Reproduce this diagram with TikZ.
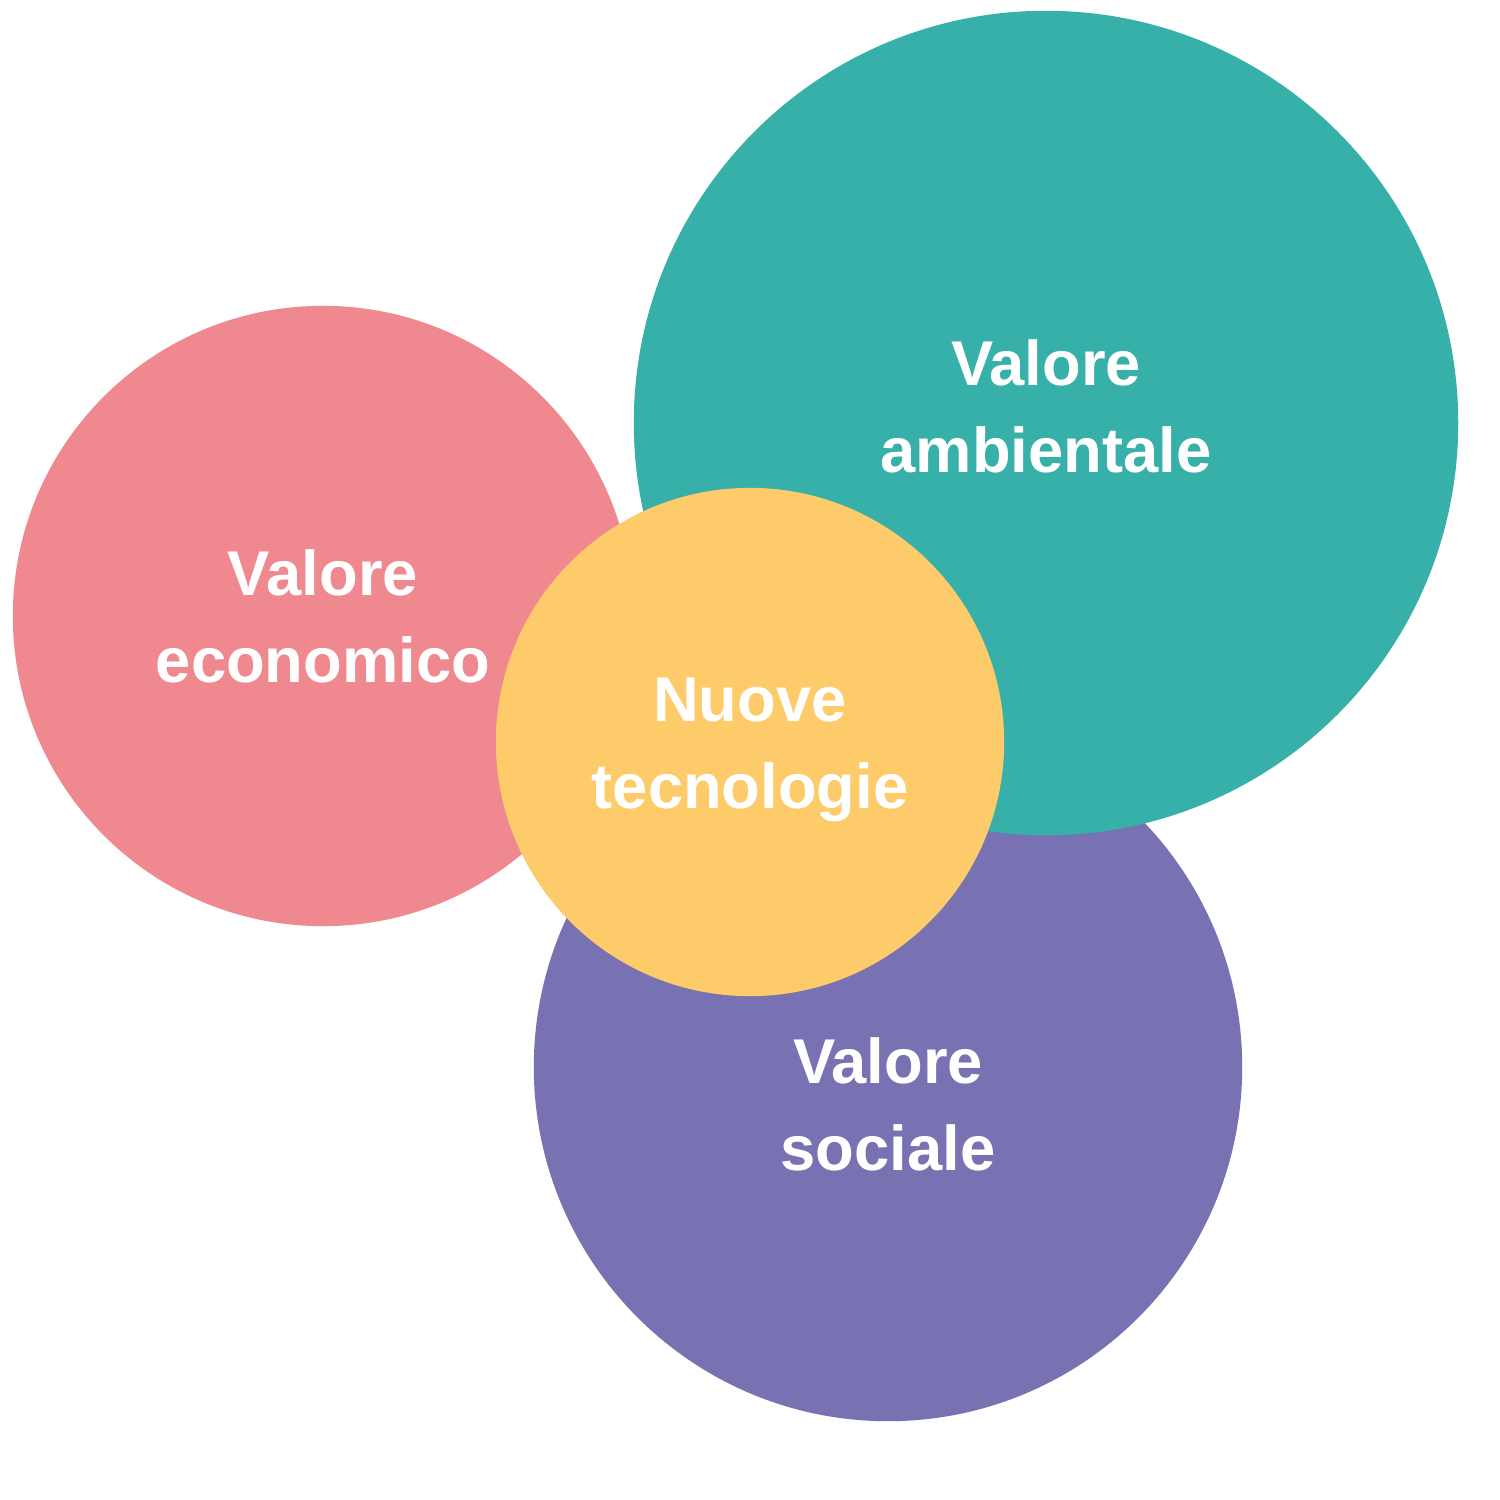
\documentclass[tikz,border=0pt]{standalone}
\usepackage{fontspec}
\setmainfont{Liberation Sans}
\definecolor{cpink}{HTML}{F08890}
\definecolor{cteal}{HTML}{36B0A9}
\definecolor{cpurple}{HTML}{7872B2}
\definecolor{cyellow}{HTML}{FDCB69}
\begin{document}
\begin{tikzpicture}[x=0.01cm,y=-0.01cm,
  lbl/.style={text=white,font=\bfseries\fontsize{18}{24.7}\selectfont,align=center}]
\useasboundingbox (0,0) rectangle (1500,1500);
\fill[cpurple] (888,1067) circle[radius=3.54cm];
\fill[cteal] (1046,423) circle[radius=4.12cm];
\fill[cpink] (323,616) circle[radius=3.10cm];
\fill[cyellow] (750,742) circle[radius=2.54cm];
\node[lbl] (amb) at (1046,406) {Valore\\ambientale};
\node[lbl] (eco) at (323,616) {Valore\\economico};
\node[lbl] (soc) at (888,1104) {Valore\\sociale};
\node[lbl] (tec) at (750,750) {Nuove\\tecnologie};
\end{tikzpicture}
\end{document}
